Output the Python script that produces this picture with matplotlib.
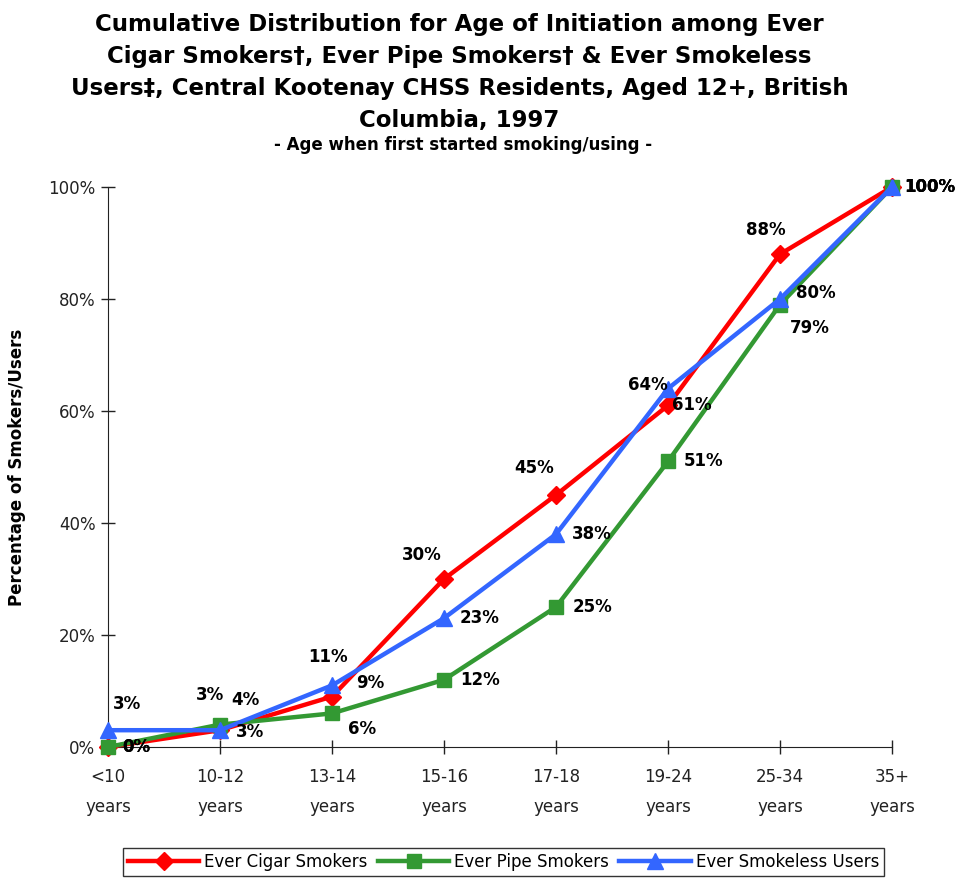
import numpy as np
import matplotlib
matplotlib.use("Agg")
import matplotlib.pyplot as plt

categories = ["<10\nyears", "10-12\nyears", "13-14\nyears", "15-16\nyears",
              "17-18\nyears", "19-24\nyears", "25-34\nyears", "35+\nyears"]
cigar = [0, 3, 9, 30, 45, 61, 88, 100]
pipe = [0, 4, 6, 12, 25, 51, 79, 100]
smokeless = [3, 3, 11, 23, 38, 64, 80, 100]

# label offsets in pixels (dx, dy up)
cigar_off = [(28, 0), (-10, 35), (38, 14), (-22, 24), (-22, 27), (24, 0), (-14, 24), (38, 0)]
pipe_off = [(28, 0), (25, 25), (30, -16), (36, 0), (36, 0), (36, 0), (30, -23), (38, 0)]
smoke_off = [(19, 26), (30, -2), (-4, 28), (36, 0), (36, 0), (-20, 4), (36, 6), (38, 0)]

plt.rcParams['font.family'] = ['DejaVu Sans']
fig = plt.figure(figsize=(9.61, 8.8), dpi=100)
ax = fig.add_axes([108/961, 1-747/880, 784/961, 560/880])

x = np.arange(len(categories))
series = [
    (cigar, "#FF0000", "D", 9, "Ever Cigar Smokers", cigar_off),
    (pipe, "#339933", "s", 10, "Ever Pipe Smokers", pipe_off),
    (smokeless, "#3366FF", "^", 11, "Ever Smokeless Users", smoke_off),
]
for vals, col, mk, ms, name, offs in series:
    ax.plot(x, vals, color=col, lw=3.2, marker=mk, ms=ms, label=name, clip_on=False, zorder=3)
for vals, col, mk, ms, name, offs in series:
    for xi, v, (dx, dy) in zip(x, vals, offs):
        ax.annotate(f"{v}%", (xi, v), xytext=(dx * 0.72, dy * 0.72), textcoords="offset points",
                    ha="center", va="center", fontsize=12, fontweight="bold", zorder=4)

ax.set_xlim(0, 7)
ax.set_ylim(0, 100)
ax.set_xticks(x)
ax.set_xticklabels(categories, fontsize=12, linespacing=1.9)
ax.set_yticks(np.arange(0, 101, 20))
ax.set_yticklabels([f"{v}%" for v in range(0, 101, 20)], fontsize=12)
ax.tick_params(direction="inout", length=10, width=1, colors="#222222", pad=4)
ax.tick_params(axis="x", pad=10)
for s in ["top", "right"]:
    ax.spines[s].set_visible(False)
for s in ["left", "bottom"]:
    ax.spines[s].set_color("#222222")
ax.set_ylabel("Percentage of Smokers/Users", fontsize=12, fontweight="bold")
ax.yaxis.set_label_coords(-0.104, 0.5)

fig.text(0.478, 0.918,
         "Cumulative Distribution for Age of Initiation among Ever\n"
         "Cigar Smokers\u2020, Ever Pipe Smokers\u2020 & Ever Smokeless\n"
         "Users\u2021, Central Kootenay CHSS Residents, Aged 12+, British\n"
         "Columbia, 1997",
         ha="center", va="center", fontsize=16.5, fontweight="bold", linespacing=1.5)
fig.text(0.482, 0.835, "- Age when first started smoking/using -",
         ha="center", va="center", fontsize=12, fontweight="bold")

leg = fig.legend(loc="center", bbox_to_anchor=(0.524, 0.021), ncol=3, fontsize=12,
                 frameon=True, fancybox=False, edgecolor="black", handlelength=4.3,
                 borderpad=0.3, columnspacing=0.6, handletextpad=0.3)
leg.get_frame().set_linewidth(1)

fig.savefig("out.png", dpi=100)
